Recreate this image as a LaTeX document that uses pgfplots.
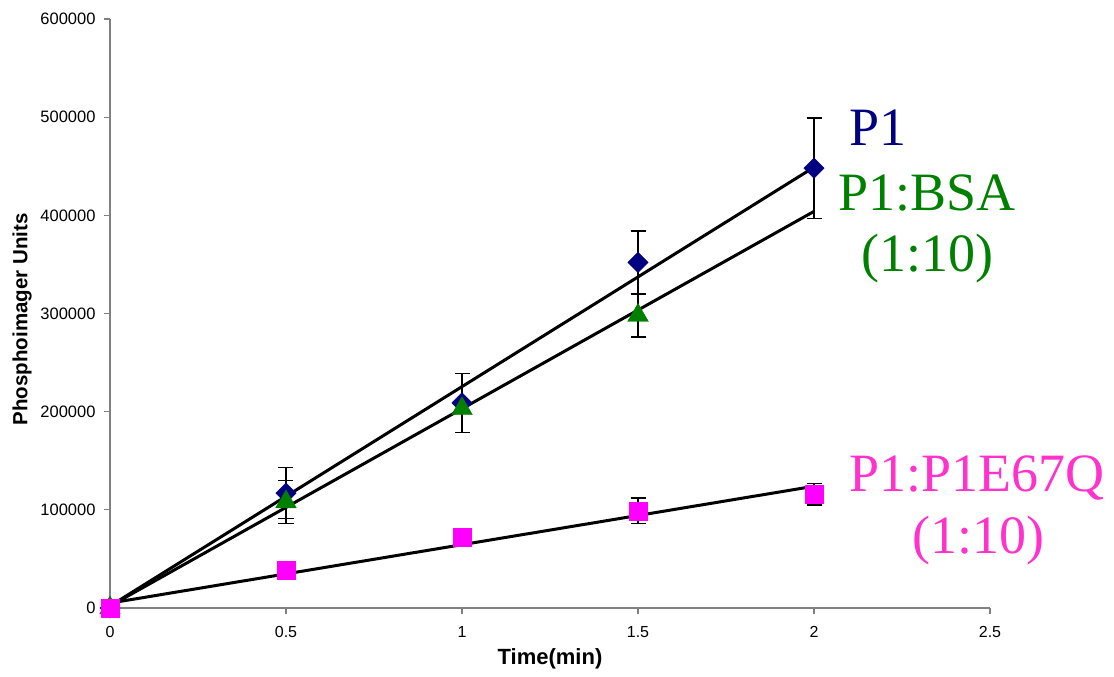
\documentclass[border=0pt]{standalone}
\usepackage{fontspec}
\setmainfont{Liberation Sans}
\newfontfamily\serif{Liberation Serif}
\usepackage{pgfplots}
\pgfplotsset{compat=1.18}
\definecolor{pnavy}{HTML}{000080}
\definecolor{pgreen}{HTML}{008000}
\definecolor{pmag}{HTML}{FF00FF}
\definecolor{ptext}{HTML}{FF33CC}

\pgfplotsset{
  ebar/.style={draw=none, mark=none, forget plot,
    error bars/.cd, y dir=both, y explicit,
    error bar style={black, line width=1.3pt},
    error mark options={black, rotate=90, mark size=7.5pt, line width=1.3pt}},
}

\begin{document}
\begin{tikzpicture}
\begin{axis}[scale only axis, width=880pt, height=589pt, at={(0,0)}, anchor=south west,
  xmin=0, xmax=2.5, ymin=0, ymax=600000,
  axis lines=left, axis line style={gray, line width=1.3pt, -},
  xtick={0,0.5,...,2.5}, ytick={0,100000,...,600000},
  tick align=outside, major tick length=6pt, tick style={gray, line width=1.2pt},
  scaled y ticks=false,
  yticklabel style={/pgf/number format/fixed, /pgf/number format/1000 sep={},
    font=\fontsize{16.5}{18}\selectfont, xshift=-5pt},
  xticklabel style={/pgf/number format/fixed,
    font=\fontsize{16}{18}\selectfont, yshift=-9pt},
  /pgf/number format/assume math mode=true,
  clip=false]
% error bars (drawn under the markers)
\addplot[ebar] coordinates {(0.5,117000) +- (0,26000) (1,209000) +- (0,30000)
  (1.5,352000) +- (0,32000) (2,448000) +- (0,51000)};
\addplot[ebar] coordinates {(0.5,108000) +- (0,22000) (1,203000) +- (0,5000)
  (1.5,298000) +- (0,22000)};
\addplot[ebar] coordinates {(1.5,99000) +- (0,13000) (2,116000) +- (0,11000)};
% P1
\addplot[only marks, mark=square*, mark size=7.2pt, mark options={rotate=45}, pnavy]
  coordinates {(0,0) (0.5,117000) (1,209000) (1.5,352000) (2,448000)};
% P1:BSA
\addplot[only marks, mark=triangle*, mark size=12pt, pgreen]
  coordinates {(0,0) (0.5,108000) (1,203000) (1.5,298000)};
% P1:P1E67Q
\addplot[only marks, mark=square*, mark size=9pt, pmag]
  coordinates {(0,0) (0.5,38000) (1,72000) (1.5,99000) (2,116000)};
% trend lines
\addplot[black, line width=3pt] coordinates {(0,2000) (2,449000)};
\addplot[black, line width=3pt] coordinates {(0,2000) (2,404000)};
\addplot[black, line width=3pt] coordinates {(0,5000) (2,124000)};
% series labels
\node[pnavy, font=\serif\fontsize{54}{62}\selectfont, anchor=base] at (axis cs:2.182,471600) {P1};
\node[pgreen, font=\serif\fontsize{54}{62}\selectfont, anchor=base] at (axis cs:2.321,405400) {P1:BSA};
\node[pgreen, font=\serif\fontsize{54}{62}\selectfont, anchor=base] at (axis cs:2.322,342300) {(1:10)};
\node[ptext, font=\serif\fontsize{54}{62}\selectfont, anchor=base] at (axis cs:2.464,118200) {P1:P1E67Q};
\node[ptext, font=\serif\fontsize{54}{62}\selectfont, anchor=base] at (axis cs:2.467,56000) {(1:10)};
% axis titles
\node[font=\bfseries\fontsize{22}{24}\selectfont] at ([yshift=-51pt]rel axis cs:0.5,0) {Time(min)};
\node[font=\bfseries\fontsize{20.5}{22}\selectfont, rotate=90] at ([xshift=-88pt]rel axis cs:0,0.49) {Phosphoimager Units};
\end{axis}
\path[use as bounding box] (-110pt,-69pt) rectangle (1004pt,608pt);
\end{tikzpicture}
\end{document}
